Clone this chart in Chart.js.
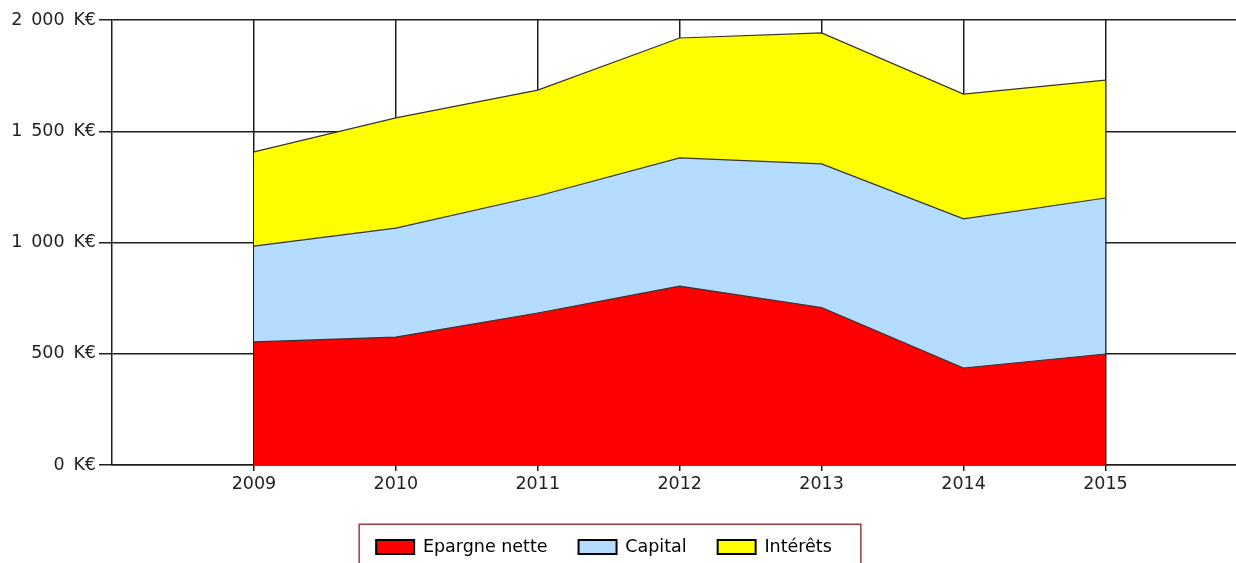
<!DOCTYPE html>
<html>
<head>
<meta charset="utf-8">
<script src="https://cdn.jsdelivr.net/npm/chart.js@4"></script>
<style>
  body { margin: 0; background: #fff; overflow: hidden; }
  #wrap { width: 1236px; height: 563px; }
</style>
</head>
<body>
<div id="wrap"><canvas id="myChart"></canvas></div>
<script>
const years = [2009, 2010, 2011, 2012, 2013, 2014, 2015];
const epargneNette = [553, 575, 683, 804, 708, 436, 499];
const capital = [431, 490, 526, 576, 645, 670, 701];
const interets = [423, 495, 476, 539, 589, 561, 530];
const yTicks = [0, 500, 1000, 1500, 2000];

const FONT = "'DejaVu Sans', Verdana, sans-serif";
const FONT_SIZE = 17.5;
const GRID = "#1e1e1e";

function points(values) {
  return values.map((v, i) => ({ x: years[i], y: v }));
}

function formatKE(v) {
  // thousands separated by a space, like "2 000 K€"
  return String(v).replace(/\B(?=(\d{3})+(?!\d))/g, "\u2002") + "\u2002K€";
}

// frame round the legend, and move it a bit to the left like the original
const legendFrame = {
  id: "legendFrame",
  afterLayout(chart) {
    chart.legend.left -= 14;
    chart.legend.right -= 14;
  },
  afterDraw(chart) {
    const boxes = chart.legend.legendHitBoxes;
    if (!boxes || !boxes.length) return;
    const first = boxes[0];
    const last = boxes[boxes.length - 1];
    const c = chart.ctx;
    c.save();
    c.strokeStyle = "#a3393b";
    c.lineWidth = 1.5;
    c.strokeRect(first.left - 17, first.top - 14, last.left + last.width + 29 - (first.left - 17), 60);
    c.restore();
  },
};

const ctx = document.getElementById("myChart");

new Chart(ctx, {
  type: "line",
  data: {
    datasets: [
      {
        label: "Epargne nette",
        data: points(epargneNette),
        backgroundColor: "#ff0000",
        borderColor: "#333",
        borderWidth: 1.2,
        fill: "origin",
      },
      {
        label: "Capital",
        data: points(capital),
        backgroundColor: "#b3dcfe",
        borderColor: "#333",
        borderWidth: 1.2,
        fill: "-1",
      },
      {
        label: "Intérêts",
        data: points(interets),
        backgroundColor: "#ffff00",
        borderColor: "#333",
        borderWidth: 1.2,
        fill: "-1",
      },
    ],
  },
  options: {
    responsive: true,
    maintainAspectRatio: false,
    animation: false,
    elements: {
      point: { radius: 0, hoverRadius: 0 },
      line: { tension: 0 },
    },
    layout: { padding: { top: 20, left: 0, right: 0, bottom: -2.75 } },
    plugins: {
      tooltip: { enabled: false },
      legend: {
        position: "bottom",
        labels: {
          boxWidth: 38,
          boxHeight: 14,
          padding: 31,
          color: "#222",
          font: { family: FONT, size: FONT_SIZE },
          generateLabels(chart) {
            return chart.data.datasets.map((ds, i) => ({
              text: ds.label,
              fillStyle: ds.backgroundColor,
              strokeStyle: "#000",
              lineWidth: 2,
              datasetIndex: i,
              hidden: false,
            }));
          },
        },
      },
    },
    scales: {
      x: {
        type: "linear",
        min: 2008,
        max: 2015.92,
        afterBuildTicks(scale) {
          scale.ticks = years.map((y) => ({ value: y }));
        },
        afterFit(scale) {
          scale.height = 42.25;
        },
        ticks: {
          padding: 3,
          color: "#222",
          font: { family: FONT, size: FONT_SIZE },
          callback: (v) => String(v),
        },
        grid: {
          color: GRID,
          lineWidth: 1.5,
          tickLength: 6,
        },
        border: { color: GRID, width: 1.5 },
      },
      y: {
        stacked: true,
        min: 0,
        max: 2000,
        afterBuildTicks(scale) {
          scale.ticks = yTicks.map((v) => ({ value: v }));
        },
        afterFit(scale) {
          scale.width = 112;
        },
        ticks: {
          padding: 3,
          color: "#222",
          font: { family: FONT, size: FONT_SIZE },
          callback: (v) => formatKE(v),
        },
        grid: {
          color: GRID,
          lineWidth: 1.5,
          tickLength: 13,
        },
        border: { color: GRID, width: 1.5 },
      },
    },
  },
  plugins: [legendFrame],
});
</script>
</body>
</html>
